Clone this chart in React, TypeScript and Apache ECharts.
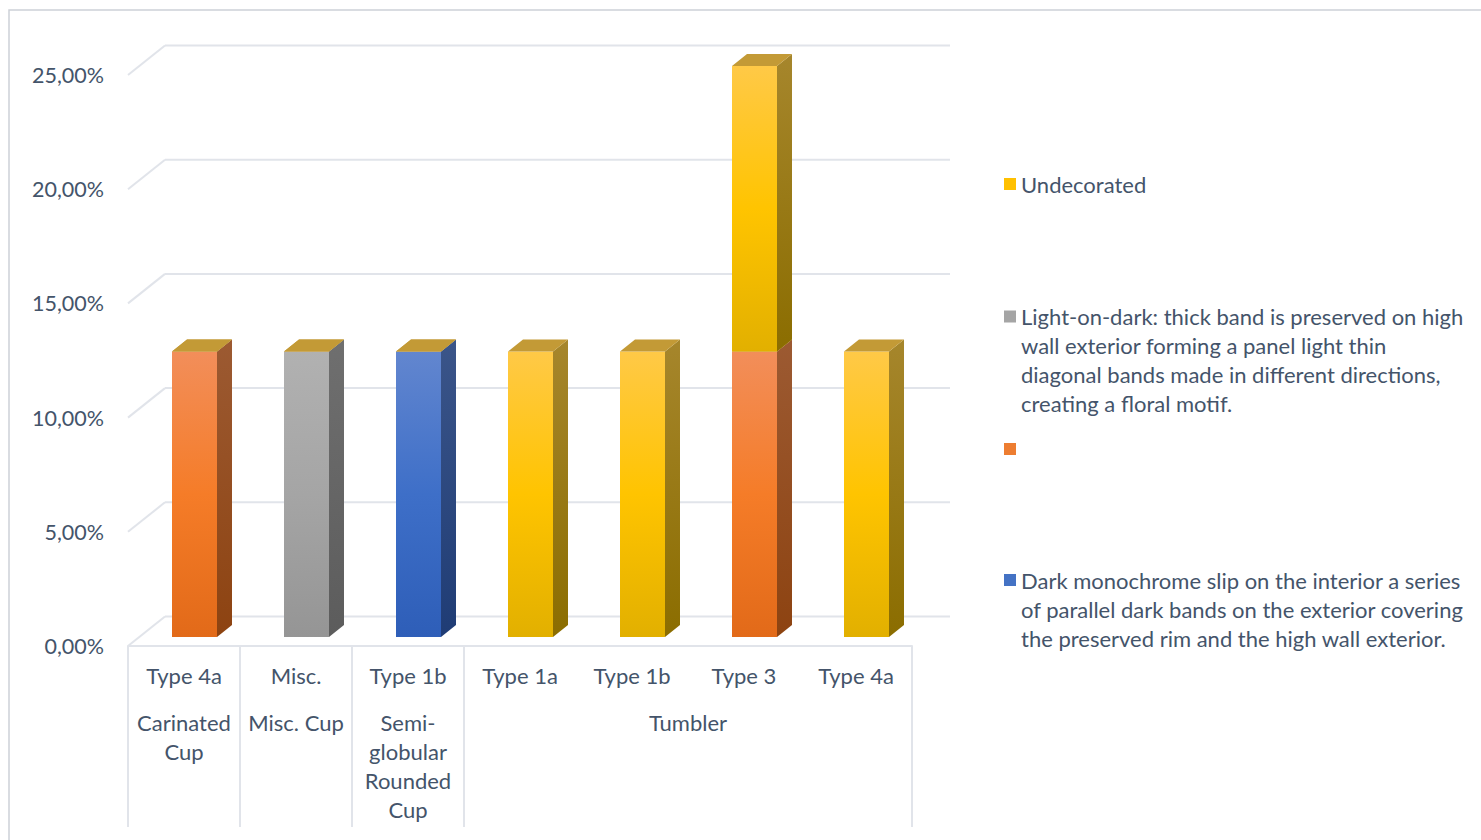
import React, { useEffect, useRef } from "react";
import * as echarts from "echarts";

// ---- data ----
const categories = ["Type 4a", "Misc.", "Type 1b", "Type 1a", "Type 1b", "Type 3", "Type 4a"];
const groupLabels = ["Carinated\nCup", "Misc. Cup", "Semi-\nglobular\nRounded\nCup", "Tumbler"];
const groupStart = [0, 1, 2, 3];
const groupEnd = [0, 1, 2, 6];
const yTicks = [0, 0.05, 0.1, 0.15, 0.2, 0.25];

const seriesNames = [
  "Undecorated",
  "Light-on-dark: thick band is preserved on high wall exterior forming a panel light thin diagonal bands made in different directions, creating a floral motif.",
  "(unnamed)",
  "Dark monochrome slip on the interior a series of parallel dark bands on the exterior covering the preserved rim and the high wall exterior.",
];
const legendLines: Record<string, string[]> = {
  [seriesNames[0]]: ["Undecorated"],
  [seriesNames[1]]: [
    "Light-on-dark: thick band is preserved on high",
    "wall exterior forming a panel light thin",
    "diagonal bands made in different directions,",
    "creating a floral motif.",
  ],
  [seriesNames[2]]: [],
  [seriesNames[3]]: [
    "Dark monochrome slip on the interior a series",
    "of parallel dark bands on the exterior covering",
    "the preserved rim and the high wall exterior.",
  ],
};
const undecorated = [0, 0, 0, 0.125, 0.125, 0.125, 0.125];
const lightOnDark = [0, 0.125, 0, 0, 0, 0, 0];
const unnamedOrange = [0.125, 0, 0, 0, 0, 0.125, 0];
const darkMonochrome = [0, 0, 0.125, 0, 0, 0, 0];

// ---- styling ----
const FONT = "Lato, 'Liberation Sans', sans-serif";
const FS = 22;
const TXT = "#44546A";
const GRID = "#E1E4EA";
const BACK_DX = 37;
const BACK_DY = -29.5;
const BAR_DX = 10.5;
const BAR_DY = -9;
const BAR_W = 45;
const SIDE_DX = 15;
const SIDE_DY = 12;

type Pal = { legend: string; front: string[]; side: string[]; top: string };
const palettes: Pal[] = [
  { legend: "#FFC000", front: ["#FFC947", "#FFC400", "#E2B000"], side: ["#A6862C", "#8B6D00"], top: "#C39A36" },
  { legend: "#A5A5A5", front: ["#B1B1B1", "#A5A5A5", "#959595"], side: ["#6F6F6F", "#5C5C5C"], top: "#C39A36" },
  { legend: "#ED7D31", front: ["#F28E5A", "#F57C28", "#E26A19"], side: ["#9C5A32", "#8D4311"], top: "#C39A36" },
  { legend: "#4472C4", front: ["#6286CF", "#3E6FC8", "#2E5EB8"], side: ["#3B5589", "#1F3C75"], top: "#C39A36" },
];

const grad = (c: string[]) =>
  new echarts.graphic.LinearGradient(
    0, 0, 0, 1,
    c.length === 3
      ? [
          { offset: 0, color: c[0] },
          { offset: 0.5, color: c[1] },
          { offset: 1, color: c[2] },
        ]
      : [
          { offset: 0, color: c[0] },
          { offset: 1, color: c[1] },
        ]
  );

function App() {
  const ref = useRef<HTMLDivElement>(null);
  useEffect(() => {
    if (!ref.current) return;
    const chart = echarts.init(ref.current, null, { renderer: "svg" });

    const valuesByName: Record<string, number[]> = {
      [seriesNames[0]]: undecorated,
      [seriesNames[1]]: lightOnDark,
      [seriesNames[2]]: unnamedOrange,
      [seriesNames[3]]: darkMonochrome,
    };
    const palByName: Record<string, Pal> = {
      [seriesNames[0]]: palettes[0],
      [seriesNames[1]]: palettes[1],
      [seriesNames[2]]: palettes[2],
      [seriesNames[3]]: palettes[3],
    };
    // stacking order bottom -> top: orange, gray, blue, yellow
    const stackOrder = [seriesNames[2], seriesNames[1], seriesNames[3], seriesNames[0]];
    const base = categories.map(() => 0);
    const barSeries: any[] = stackOrder.map((name, si) => {
      const vals = valuesByName[name];
      const pal = palByName[name];
      const isTop = si === stackOrder.length - 1;
      const data = vals.map((v, i) => {
        const s = base[i];
        base[i] += v;
        return [i, s, s + v];
      });
      return {
        type: "custom",
        name,
        color: pal.legend,
        itemStyle: { color: pal.legend },
        encode: { x: 0, y: [1, 2] },
        z: 5 + si,
        data,
        renderItem: (params: any, api: any) => {
          const cat = api.value(0);
          const s = api.value(1);
          const e = api.value(2);
          if (e <= s && !isTop) return null;
          const pb = api.coord([cat, s]);
          const pt = api.coord([cat, e]);
          const cx = pb[0] + BAR_DX;
          const y0 = pb[1] + BAR_DY;
          const y1 = pt[1] + BAR_DY;
          const x0 = cx - BAR_W / 2;
          const x1 = cx + BAR_W / 2;
          const children: any[] = [];
          if (e > s) {
            children.push({
              type: "rect",
              shape: { x: x0, y: y1, width: BAR_W, height: y0 - y1 },
              style: { fill: grad(pal.front) },
            });
            children.push({
              type: "polygon",
              shape: {
                points: [
                  [x1, y1],
                  [x1 + SIDE_DX, y1 - SIDE_DY],
                  [x1 + SIDE_DX, y0 - SIDE_DY],
                  [x1, y0],
                ],
              },
              style: { fill: grad(pal.side) },
            });
          }
          children.push({
            type: "polygon",
            shape: {
              points: [
                [x0, y1],
                [x1, y1],
                [x1 + SIDE_DX, y1 - SIDE_DY],
                [x0 + SIDE_DX, y1 - SIDE_DY],
              ],
            },
            style: { fill: pal.top },
          });
          return { type: "group", children };
        },
      };
    });

    const gridSeries = {
      type: "custom",
      name: "gridlines",
      z: 1,
      silent: true,
      encode: { x: 0, y: 1 },
      data: yTicks.map((v) => [0, v]),
      renderItem: (params: any, api: any) => {
        const cs = params.coordSys;
        const y = api.coord([0, api.value(1)])[1];
        const x0 = cs.x;
        const x1 = cs.x + cs.width;
        const st = { stroke: GRID, lineWidth: 2 };
        return {
          type: "group",
          children: [
            { type: "line", shape: { x1: x0, y1: y, x2: x0 + BACK_DX, y2: y + BACK_DY }, style: st },
            { type: "line", shape: { x1: x0 + BACK_DX, y1: y + BACK_DY, x2: x1 + BACK_DX + 1, y2: y + BACK_DY }, style: st },
          ],
        };
      },
    };

    const groupSeries = {
      type: "custom",
      name: "groups",
      z: 2,
      silent: true,
      encode: { x: [0, 2], y: 1 },
      data: groupStart.map((s, i) => [s, 0, groupEnd[i], i]),
      renderItem: (params: any, api: any) => {
        const bw = api.size([1, 0])[0];
        const yb = api.coord([0, 0])[1];
        const l = api.coord([api.value(0), 0])[0] - bw / 2;
        const r = api.coord([api.value(2), 0])[0] + bw / 2;
        const st = { stroke: GRID, lineWidth: 2 };
        return {
          type: "group",
          children: [
            { type: "line", shape: { x1: l, y1: yb, x2: l, y2: yb + 181 }, style: st },
            { type: "line", shape: { x1: r, y1: yb, x2: r, y2: yb + 181 }, style: st },
            {
              type: "text",
              style: {
                text: groupLabels[api.value(3)],
                x: (l + r) / 2,
                y: yb + 62,
                align: "center",
                verticalAlign: "top",
                fontSize: FS,
                fontFamily: FONT,
                lineHeight: 29,
                fill: TXT,
              },
            },
          ],
        };
      },
    };

    // Legend text is centred on its icon, so pad with blank lines above
    // to put the first line level with the icon.
    const legendText = (n: string) => {
      const lines = legendLines[n];
      if (!lines.length) return "";
      return Array(lines.length - 1).fill("").concat(lines).join("\n");
    };
    const legendBase = {
      orient: "vertical",
      left: 1004,
      padding: 0,
      icon: "rect",
      itemWidth: 12,
      itemHeight: 12,
      selectedMode: false,
      formatter: legendText,
      textStyle: { fontFamily: FONT, fontSize: FS, color: TXT, lineHeight: 29 },
    };
    const legTop = (center: number, lines: number) => {
      if (lines === 0) return center - 6;
      const h = (2 * lines - 1) * 29;
      return center - h / 2;
    };

    chart.setOption({
      animation: false,
      backgroundColor: "#ffffff",
      graphic: [
        {
          type: "rect",
          shape: { x: 9, y: 10, width: 1500, height: 860 },
          style: { fill: "none", stroke: "#CDD1D7", lineWidth: 1.5 },
          z: 0,
        },
      ],
      legend: [
        { ...legendBase, data: [seriesNames[0]], top: legTop(184, 1) },
        { ...legendBase, data: [seriesNames[1]], top: legTop(316.5, 4) },
        { ...legendBase, data: [seriesNames[2]], top: legTop(449, 0) },
        { ...legendBase, data: [seriesNames[3]], top: legTop(580, 3) },
      ],
      grid: { left: 128, right: 1481 - 912, top: 75, bottom: 840 - 646, containLabel: false },
      xAxis: {
        type: "category",
        data: categories,
        axisLine: { show: true, lineStyle: { color: GRID, width: 2 } },
        axisTick: { show: false },
        axisLabel: {
          interval: 0,
          margin: 15,
          fontSize: FS,
          lineHeight: 29,
          fontFamily: FONT,
          color: TXT,
        },
        splitLine: { show: false },
      },
      yAxis: {
        type: "value",
        min: 0,
        max: 0.25,
        interval: 0.05,
        axisLine: { show: false },
        axisTick: { show: false },
        splitLine: { show: false },
        axisLabel: {
          margin: 24,
          fontSize: 21.5,
          fontFamily: FONT,
          color: TXT,
          formatter: (v: number) => (v * 100).toFixed(2).replace(".", ",") + "%",
        },
      },
      series: [gridSeries, groupSeries, ...barSeries],
    });
    return () => chart.dispose();
  }, []);
  return (
    <div
      ref={ref}
      style={{ position: "fixed", left: 0, top: 0, width: 1481, height: 840, background: "#fff" }}
    />
  );
}

export default App;
